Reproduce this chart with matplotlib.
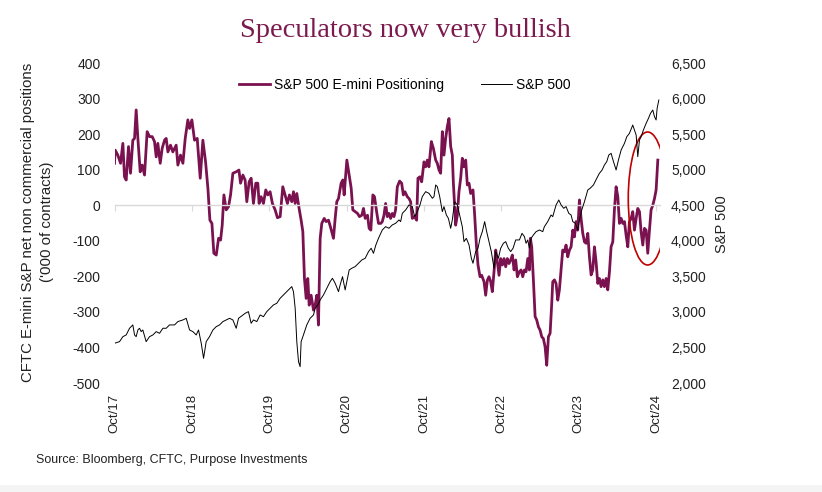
import matplotlib.pyplot as plt
from matplotlib.patches import Ellipse, Rectangle

plt.rcParams['font.family'] = ['Liberation Sans', 'DejaVu Sans']

# CFTC net non commercial positions ('000 contracts), date as decimal year
pos_t = [2017.750, 2017.759, 2017.793, 2017.828, 2017.858, 2017.879, 2017.901, 2017.931, 2017.957, 2017.987,
         2018.009, 2018.030, 2018.052, 2018.082, 2018.108, 2018.138, 2018.172, 2018.203, 2018.237, 2018.267,
         2018.289, 2018.310, 2018.341, 2018.366, 2018.397, 2018.418, 2018.440, 2018.474, 2018.504, 2018.547,
         2018.569, 2018.603, 2018.634, 2018.664, 2018.698, 2018.720, 2018.750, 2018.784, 2018.819, 2018.858,
         2018.892, 2018.927, 2018.957, 2018.983, 2019.009, 2019.034, 2019.065, 2019.095, 2019.121, 2019.142,
         2019.164, 2019.194, 2019.224, 2019.250, 2019.280, 2019.323, 2019.358, 2019.379, 2019.409,
         2019.438, 2019.460, 2019.490, 2019.516, 2019.546, 2019.576, 2019.602, 2019.619, 2019.645, 2019.675,
         2019.705, 2019.731, 2019.761, 2019.791, 2019.826, 2019.856, 2019.891, 2019.925, 2019.955, 2019.985,
         2020.011, 2020.041, 2020.063, 2020.085, 2020.106, 2020.136, 2020.162, 2020.184, 2020.205, 2020.227,
         2020.248, 2020.266, 2020.291, 2020.322, 2020.343, 2020.365, 2020.386, 2020.408, 2020.429, 2020.460,
         2020.485, 2020.516, 2020.546, 2020.580, 2020.602, 2020.623, 2020.645, 2020.679, 2020.701, 2020.718,
         2020.753, 2020.783, 2020.809, 2020.830, 2020.860, 2020.891, 2020.916, 2020.947, 2020.968, 2020.990,
         2021.020, 2021.041, 2021.063, 2021.089, 2021.110, 2021.141, 2021.162, 2021.192,
         2021.211, 2021.233, 2021.254, 2021.276, 2021.297, 2021.319, 2021.340, 2021.362, 2021.383, 2021.405,
         2021.435, 2021.461, 2021.483, 2021.504, 2021.534, 2021.556, 2021.577, 2021.599, 2021.629, 2021.655,
         2021.672, 2021.698, 2021.720, 2021.750, 2021.771, 2021.793, 2021.814, 2021.845, 2021.871, 2021.901,
         2021.922, 2021.944, 2021.965, 2021.987, 2022.008, 2022.030, 2022.051, 2022.073, 2022.095, 2022.116,
         2022.129, 2022.146, 2022.159, 2022.181, 2022.202, 2022.224, 2022.245, 2022.267, 2022.289, 2022.310,
         2022.332, 2022.353, 2022.383, 2022.405, 2022.427, 2022.448, 2022.474, 2022.495, 2022.526, 2022.547,
         2022.569, 2022.590, 2022.612, 2022.633, 2022.655, 2022.677, 2022.698, 2022.720, 2022.741, 2022.763,
         2022.784, 2022.806, 2022.827, 2022.849, 2022.870, 2022.892, 2022.914, 2022.935, 2022.957,
         2022.983, 2023.005, 2023.026, 2023.048, 2023.069, 2023.091, 2023.112, 2023.125, 2023.142, 2023.164,
         2023.186, 2023.207, 2023.229, 2023.250, 2023.272, 2023.293, 2023.315, 2023.336, 2023.358, 2023.380,
         2023.401, 2023.414, 2023.436, 2023.457, 2023.479, 2023.500, 2023.522, 2023.543, 2023.565, 2023.586,
         2023.608, 2023.630, 2023.651, 2023.673, 2023.694, 2023.716, 2023.737, 2023.759, 2023.780, 2023.802,
         2023.824, 2023.845, 2023.867, 2023.888, 2023.910, 2023.931, 2023.953, 2023.974, 2023.996, 2024.017,
         2024.039, 2024.061, 2024.082, 2024.104, 2024.125, 2024.147, 2024.168, 2024.190, 2024.211, 2024.233,
         2024.255, 2024.276, 2024.298, 2024.319, 2024.341, 2024.362, 2024.384, 2024.405, 2024.427, 2024.448,
         2024.470, 2024.492, 2024.513, 2024.535, 2024.556, 2024.578, 2024.599, 2024.621, 2024.642, 2024.664,
         2024.685, 2024.707, 2024.729, 2024.750, 2024.772]
pos_v = [118, 155, 141, 118, 174, 80, 71, 165, 90, 183,
         188, 268, 188, 94, 113, 85, 207, 193, 193, 179,
         136, 174, 118, 160, 183, 188, 150, 169, 150, 169,
         113, 141, 118, 188, 240, 216, 240, 183, 188, 76,
         183, 122, 48, -42, -51, -135, -140, -93, -98, -56,
         29, -13, -4, 29, 90, 94, 99, 62, 85,
         71, 10, 66, 76, 5, 62, 62, 5, 24, 5,
         43, 29, 38, 5, -13, -35, -32, 52, 29, 5,
         29, 10, 38, 5, 33, -9, -42, -74, -206, -262,
         -206, -281, -253, -295, -281, -253, -337, -93, -51, -37,
         -46, -42, -65, -93, -37, 10, 19, 62, 71, 29,
         127, 85, 48, -13, -18, -23, -32, -28, -9, -37,
         -28, -65, -70, 29, 24, -23, -51, -51,
         -46, -28, 5, -32, -23, -37, -23, -32, -13, 52,
         68, 62, 29, 38, 24, 19, 10, -37, -32, -42,
         76, 80, 66, 122, 108, 127, 108, 179, 160, 127,
         118, 99, 90, 207, 141, 188, 221, 244, 165, 141,
         66, 0, -56, -28, 38, 76, 132, 108, 127, 57,
         62, 33, 43, -28, -112, -168, -201, -197, -215, -253,
         -211, -201, -215, -243, -187, -126, -159, -197, -150, -168,
         -150, -173, -150, -164, -154, -140, -182, -154, -201,
         -187, -182, -201, -182, -187, -150, -182, -93, -117, -210,
         -313, -323, -342, -351, -370, -375, -398, -450, -370, -360,
         -276, -215, -210, -220, -267, -238, -182, -126, -131, -112,
         -145, -126, -117, -70, -89, -46, -70, 15, -37, -79,
         -103, -107, -79, -145, -196, -182, -117, -159, -220, -206,
         -229, -210, -229, -206, -238, -187, -117, -103, -13, 52,
         24, -51, -37, -51, -46, -84, -117, -46, -37, -18,
         -70, -37, -9, -18, -75, -112, -65, -70, -135, -70,
         -13, 0, 19, 43, 127]

# S&P 500 index level
spx_t = [2017.750, 2017.815, 2017.858, 2017.901, 2017.944, 2017.987, 2018.009, 2018.030, 2018.052, 2018.073,
         2018.095, 2018.116, 2018.159, 2018.203, 2018.246, 2018.289, 2018.332, 2018.375, 2018.418, 2018.461,
         2018.526, 2018.569, 2018.634, 2018.677, 2018.720, 2018.763, 2018.806, 2018.836, 2018.871, 2018.901,
         2018.935, 2018.978, 2019.022, 2019.065, 2019.108, 2019.151, 2019.194, 2019.237, 2019.280, 2019.323,
         2019.353, 2019.409,
         2019.438, 2019.481, 2019.516, 2019.546, 2019.589, 2019.632, 2019.675, 2019.718, 2019.761, 2019.804,
         2019.847, 2019.891, 2019.934, 2019.977, 2020.020, 2020.041, 2020.063, 2020.085, 2020.106, 2020.128,
         2020.149, 2020.162, 2020.192, 2020.235, 2020.278, 2020.322, 2020.343, 2020.378, 2020.408, 2020.451,
         2020.494, 2020.537, 2020.567, 2020.602, 2020.645, 2020.666, 2020.697, 2020.731, 2020.753, 2020.783,
         2020.817, 2020.860, 2020.903, 2020.947, 2020.990, 2021.033, 2021.067, 2021.097, 2021.128, 2021.162,
         2021.211, 2021.254, 2021.297, 2021.340, 2021.383, 2021.427, 2021.448, 2021.470, 2021.513, 2021.556,
         2021.599, 2021.629, 2021.664, 2021.698, 2021.728, 2021.771, 2021.814, 2021.858, 2021.879, 2021.901,
         2021.922, 2021.953, 2021.987, 2022.008, 2022.039, 2022.065, 2022.095, 2022.116, 2022.146, 2022.181,
         2022.211, 2022.245, 2022.267, 2022.297, 2022.332, 2022.362, 2022.383, 2022.418, 2022.448, 2022.474,
         2022.504, 2022.534, 2022.560, 2022.590, 2022.620, 2022.655, 2022.677, 2022.711, 2022.741, 2022.776,
         2022.806, 2022.840, 2022.870, 2022.901, 2022.935,
         2022.983, 2023.017, 2023.048, 2023.069, 2023.091, 2023.112, 2023.134, 2023.164, 2023.199, 2023.242,
         2023.285, 2023.306, 2023.349, 2023.392, 2023.414, 2023.457, 2023.492, 2023.522, 2023.556, 2023.586,
         2023.621, 2023.651, 2023.673, 2023.707, 2023.737, 2023.759, 2023.789, 2023.824, 2023.867, 2023.897,
         2023.940, 2023.983, 2024.017, 2024.052, 2024.082, 2024.112, 2024.138, 2024.168, 2024.199, 2024.233,
         2024.263, 2024.298, 2024.341, 2024.371, 2024.405, 2024.448, 2024.470, 2024.492, 2024.513, 2024.535,
         2024.556, 2024.586, 2024.621, 2024.651, 2024.677, 2024.707, 2024.729, 2024.750, 2024.763, 2024.785]
spx_v = [2559, 2582, 2652, 2676, 2770, 2817, 2676, 2652, 2746, 2770,
         2723, 2746, 2582, 2652, 2676, 2723, 2699, 2770, 2770, 2817,
         2817, 2864, 2887, 2910, 2746, 2723, 2676, 2746, 2559, 2348,
         2582, 2652, 2746, 2793, 2817, 2864, 2887, 2910, 2887, 2770,
         2910, 2957,
         2980, 3004, 2840, 2887, 2864, 2957, 2933, 3004, 3051, 3098,
         3121, 3192, 3239, 3285, 3332, 3356, 3285, 3051, 2582, 2301,
         2230, 2582, 2676, 2817, 2910, 2957, 3051, 3098, 3168, 3239,
         3332, 3426, 3473, 3403, 3285, 3379, 3496, 3309, 3426, 3590,
         3614, 3637, 3684, 3731, 3754, 3848, 3895, 3824, 3942, 4036,
         4152, 4199, 4176, 4223, 4246, 4293, 4270, 4387, 4434, 4504,
         4481, 4340, 4410, 4504, 4621, 4691, 4668, 4598, 4621, 4785,
         4762, 4621, 4410, 4481, 4363, 4316, 4176, 4293, 4551, 4504,
         4363, 4199, 3988, 4035, 3942, 3754, 3684, 3848, 3895, 4035,
         4129, 4270, 4129, 3988, 3848, 3614, 3848, 3754, 3895, 3965,
         3988, 3895, 3848, 3895, 4012,
         4012, 4105, 4059, 3965, 4012, 3895, 4035, 4082, 4129, 4152,
         4129, 4199, 4270, 4363, 4340, 4504, 4574, 4504, 4457, 4481,
         4387, 4363, 4270, 4246, 4152, 4293, 4434, 4551, 4715, 4738,
         4785, 4879, 4949, 4996, 5066, 5113, 5206, 5230, 5113, 4996,
         5136, 5277, 5371, 5464, 5511, 5628, 5558, 5488, 5183, 5417,
         5464, 5558, 5652, 5722, 5792, 5839, 5745, 5699, 5862, 5980]

tick_years = [2017.75, 2018.75, 2019.75, 2020.75, 2021.75, 2022.75, 2023.75, 2024.75]
tick_labels = ['Oct/17', 'Oct/18', 'Oct/19', 'Oct/20', 'Oct/21', 'Oct/22', 'Oct/23', 'Oct/24']
left_ticks = [-500, -400, -300, -200, -100, 0, 100, 200, 300, 400]
right_ticks = [2000, 2500, 3000, 3500, 4000, 4500, 5000, 5500, 6000, 6500]

maroon = '#7B1250'

fig = plt.figure(figsize=(8.22, 4.92), dpi=100)
ax = fig.add_axes([0.1393, 0.2215, 0.6636, 0.6504])
ax2 = ax.twinx()

l1, = ax.plot(pos_t, pos_v, color=maroon, lw=2.0, label='S&P 500 E-mini Positioning')
l2, = ax2.plot(spx_t, spx_v, color='black', lw=0.7, label='S&P 500')

ax.set_xlim(2017.75, 2024.80)
ax.set_ylim(-500, 400)
ax2.set_ylim(2000, 6500)

# zero line with year tick marks
for s in ['top', 'left', 'right']:
    ax.spines[s].set_visible(False)
for s in ax2.spines.values():
    s.set_visible(False)
ax.spines['bottom'].set_position(('data', 0))
ax.spines['bottom'].set_color('#d9d9d9')
ax.spines['bottom'].set_linewidth(1.0)
ax.set_xticks(tick_years)
ax.tick_params(axis='x', direction='out', length=4, color='#d9d9d9', labelbottom=False)

# date labels at the bottom of the plot
sec = ax.secondary_xaxis('bottom')
sec.spines['bottom'].set_visible(False)
sec.set_xticks(tick_years)
sec.set_xticklabels(tick_labels, rotation=90, fontsize=9.5, color='#222222')
sec.tick_params(axis='x', length=0, pad=8)

ax.set_yticks(left_ticks)
ax.set_yticklabels([str(v) for v in left_ticks])
ax.tick_params(axis='y', length=0, pad=10, labelsize=10, labelcolor='#222222')
ax2.set_yticks(right_ticks)
ax2.set_yticklabels([f'{v:,}' for v in right_ticks])
ax2.tick_params(axis='y', length=0, pad=8, labelsize=10, labelcolor='#222222')

# circled recent surge
ell = Ellipse((2024.64, 19), width=0.50, height=374, fill=False, edgecolor='#C00000', lw=1.2)
ax2.add_patch(ell)
ell.set_transform(ax.transData)

ax2.legend(handles=[l1, l2], loc='center', bbox_to_anchor=(0.5325, 0.931), ncol=2,
           frameon=False, fontsize=10, handlelength=2.2, columnspacing=2.7, handletextpad=0.3)

fig.text(0.4933, 0.937, 'Speculators now very bullish', family='Liberation Serif',
         fontsize=20.5, color='#7B1A4E', ha='center', va='center')
fig.text(0.0455, 0.549, "CFTC E-mini S&P net non commercial positions\n('000 of contracts)",
         rotation=90, ha='center', va='center', multialignment='center', fontsize=10.8,
         color='#222222', linespacing=1.45)
fig.text(0.878, 0.545, 'S&P 500', rotation=90, ha='center', va='center', fontsize=10.5,
         color='#222222')
fig.text(0.044, 0.065, 'Source: Bloomberg, CFTC, Purpose Investments',
         family=['Liberation Sans Narrow', 'Liberation Sans'], fontsize=9, color='#222222',
         ha='left', va='center')

fig.patches.append(Rectangle((0, 0), 1, 0.014, transform=fig.transFigure,
                             facecolor='#f4f4f4', edgecolor='none'))

fig.savefig('out.png', dpi=100)
